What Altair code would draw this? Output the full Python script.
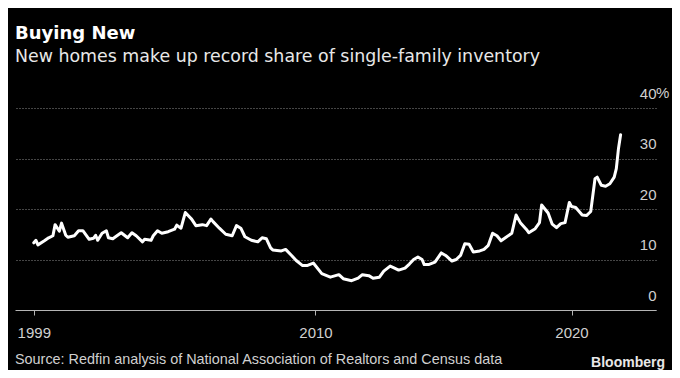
import altair as alt
import pandas as pd

# --- data ---------------------------------------------------------------
months = [
    "1999-01", "1999-02", "1999-03", "1999-06", "1999-08", "1999-10", "1999-11",
    "2000-01", "2000-02", "2000-04", "2000-05", "2000-08", "2000-10", "2000-12",
    "2001-03", "2001-05", "2001-06", "2001-07", "2001-09", "2001-11", "2001-12",
    "2002-02", "2002-04", "2002-06", "2002-09", "2002-11",
    "2003-01", "2003-04", "2003-05", "2003-08", "2003-09", "2003-11",
    "2004-01", "2004-04", "2004-07", "2004-08", "2004-10", "2004-12",
    "2005-03", "2005-05", "2005-08", "2005-10", "2005-12",
    "2006-01", "2006-04", "2006-07", "2006-10", "2006-12",
    "2007-02", "2007-04", "2007-07", "2007-10", "2007-12",
    "2008-02", "2008-04", "2008-05", "2008-09", "2008-11",
    "2009-02", "2009-04", "2009-07", "2009-09", "2009-12",
    "2010-04", "2010-08", "2010-12",
    "2011-02", "2011-06", "2011-09", "2011-11",
    "2012-02", "2012-04", "2012-07", "2012-09", "2012-12",
    "2013-02", "2013-04", "2013-07", "2013-09", "2013-11",
    "2014-01", "2014-03", "2014-04", "2014-06", "2014-09", "2014-12",
    "2015-02", "2015-05", "2015-07", "2015-09", "2015-11",
    "2016-01", "2016-03", "2016-06", "2016-08", "2016-10", "2016-12",
    "2017-02", "2017-04", "2017-06", "2017-09", "2017-11",
    "2018-01", "2018-04", "2018-05", "2018-08", "2018-10", "2018-11",
    "2019-02", "2019-04", "2019-06", "2019-08", "2019-10", "2019-12",
    "2020-01", "2020-03", "2020-06", "2020-08", "2020-10", "2020-12",
    "2021-01", "2021-03", "2021-05", "2021-07", "2021-09", "2021-10", "2021-11", "2021-12",
]
new_home_share = [
    13.3, 13.8, 12.9, 13.7, 14.3, 14.7, 16.9,
    15.6, 17.2, 14.8, 14.4, 14.7, 15.7, 15.7,
    14.0, 14.2, 14.8, 13.8, 15.2, 15.7, 14.3,
    14.1, 14.7, 15.3, 14.3, 15.3,
    14.7, 13.5, 14.0, 13.8, 14.7, 15.7,
    15.2, 15.5, 16.0, 16.8, 16.2, 19.3,
    18.0, 16.7, 16.9, 16.7, 18.0,
    17.5, 16.2, 15.0, 14.7, 16.7,
    16.2, 14.5, 13.8, 13.5, 14.3,
    14.1, 12.3, 11.9, 11.7, 12.0,
    10.7, 9.8, 8.8, 8.8, 9.3,
    7.2, 6.5, 7.0,
    6.2, 5.8, 6.3, 7.0,
    6.8, 6.3, 6.5, 7.7, 8.7,
    8.3, 7.9, 8.3, 9.1, 10.0,
    10.5, 10.0, 9.0, 9.0, 9.5, 11.3,
    10.8, 9.7, 10.0, 10.8, 13.1,
    13.0, 11.5, 11.7, 12.0, 12.8, 15.2,
    14.7, 13.7, 14.3, 15.2, 18.8,
    17.3, 15.9, 15.3, 16.1, 17.3, 20.8,
    19.2, 17.0, 16.3, 17.1, 17.3, 21.3,
    20.5, 20.3, 18.8, 18.7, 19.5, 26.0,
    26.3, 24.7, 24.5, 25.0, 26.3, 28.0, 32.0, 34.7,
]
y_ticks = [0, 10, 20, 30, 40]
x_tick_years = [1999, 2010, 2020]

title_text = "Buying New"
subtitle_text = "New homes make up record share of single-family inventory"
source_text = "Source: Redfin analysis of National Association of Realtors and Census data"
brand_text = "Bloomberg"

df = pd.DataFrame({"date": [m + "-01" for m in months], "share": new_home_share})

W, H = 641, 202
LABEL_FONT = "Liberation Sans"

x_enc = alt.X(
    "date:T",
    scale=alt.Scale(domain=[alt.DateTime(year=1998, month=4, date=8),
                            alt.DateTime(year=2023, month=4, date=20)]),
    axis=alt.Axis(
        values=[alt.DateTime(year=y) for y in x_tick_years],
        format="%Y", title=None, grid=False,
        domainColor="#b5b5b5", domainWidth=1,
        tickColor="#b5b5b5", tickSize=5, tickWidth=1,
        labelFont=LABEL_FONT, labelFontSize=15, labelColor="#d0d0d0",
        labelBaseline="alphabetic", labelPadding=22, labelAlign="center",
        zindex=2,
    ),
)
y_enc = alt.Y(
    "share:Q",
    scale=alt.Scale(domain=[0, 40]),
    axis=alt.Axis(
        orient="right", values=y_ticks, title=None,
        domain=False, ticks=False,
        grid=True, gridColor="#8a8a8a", gridDash=[1, 2], gridWidth=1,
        labelFont=LABEL_FONT, labelFontSize=15, labelColor="#d0d0d0",
        labelAlign="right", labelPadding=0, labelBaseline="alphabetic",
        labelOffset=-10, zindex=0,
    ),
)

line = alt.Chart(df).mark_line(
    color="white", strokeWidth=3, strokeJoin="round", strokeCap="round"
).encode(x=x_enc, y=y_enc)

pct = alt.Chart(pd.DataFrame({"t": ["%"]})).mark_text(
    align="left", baseline="alphabetic", dy=-10,
    font=LABEL_FONT, fontSize=15, color="#d0d0d0",
).encode(x=alt.value(W), y=alt.datum(40), text="t:N")

def label(text, x, y, size, font, weight, color, align="left"):
    return alt.Chart(pd.DataFrame({"t": [text]})).mark_text(
        align=align, baseline="alphabetic", font=font, fontSize=size,
        fontWeight=weight, color=color,
    ).encode(x=alt.value(x), y=alt.value(y), text="t:N")

title = label(title_text, 0, -69, 18, "DejaVu Sans", "bold", "#ffffff")
subtitle = label(subtitle_text, 0, -46, 17.4, "DejaVu Sans", "normal", "#e8e8e8")
source = label(source_text, 0, 256, 14.4, LABEL_FONT, "normal", "#d0d0d0")
brand = label(brand_text, 650, 259, 14, "Liberation Sans", "bold", "#e8e8e8", align="right")

chart = alt.layer(line, pct, title, subtitle, source, brand).properties(
    width=W, height=H,
    padding={"left": 7, "top": 100, "right": 16, "bottom": 60},
    autosize=alt.AutoSizeParams(type="none"),
    background="#000000",
).configure_view(stroke=None)

chart.save("out.html", embed_options={"renderer": "svg", "actions": False})
